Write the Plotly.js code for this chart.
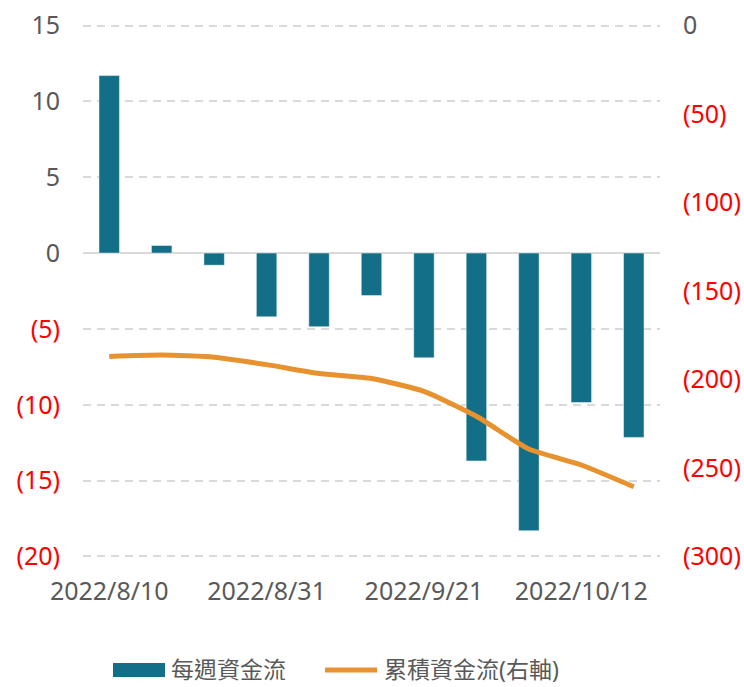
<!DOCTYPE html>
<html>
<head>
<meta charset="utf-8">
<script src="https://cdn.plot.ly/plotly-3.0.1.min.js"></script>
<style>html,body{margin:0;padding:0;background:#fff;}#chart{width:744px;height:687px;}</style>
</head>
<body>
<div id="chart"></div>
<script>
const dates = ["2022/8/10","2022/8/17","2022/8/24","2022/8/31","2022/9/7","2022/9/14","2022/9/21","2022/9/28","2022/10/5","2022/10/12","2022/10/19"];
const weeklyFlow = [11.7, 0.5, -0.8, -4.2, -4.85, -2.8, -6.9, -13.7, -18.3, -9.85, -12.15];
const cumulativeFlow = [-187.0, -186.2, -187.4, -191.6, -196.6, -199.4, -206.7, -220.8, -239.3, -248.3, -260.6];
const seriesNames = ["每週資金流", "累積資金流(右軸)"];
const xTickVals = ["2022/8/10","2022/8/31","2022/9/21","2022/10/12"];
const leftTicks = [15, 10, 5, 0, -5, -10, -15, -20];
const rightTicks = [0, -50, -100, -150, -200, -250, -300];

const GRAY = "#595959", RED = "#FF0000";
function fmt(v){ return v < 0 ? '<span style="color:' + RED + '">(' + Math.abs(v) + ')</span>' : String(v); }

const barColor = "#136F87", lineColor = "#E8922F";
const font = "'Noto Sans', 'Noto Sans CJK TC', sans-serif";

const traces = [
  {type: "bar", x: dates, y: weeklyFlow, name: seriesNames[0], yaxis: "y",
   marker: {color: barColor, line: {color: "rgba(255,255,255,0.45)", width: 1}}, width: 0.39, showlegend: false},
  {type: "scatter", mode: "lines", x: dates, y: cumulativeFlow, name: seriesNames[1], yaxis: "y2",
   line: {color: lineColor, width: 5, shape: "spline", smoothing: 0.5}, showlegend: false}
];

const W = 744, H = 687, L = 83, R = 84, T = 24, B = 129;
const pw = W - L - R, ph = H - T - B;
const px = x => (x - L) / pw;
const py = y => (H - B - y) / ph;

const pad = 0.1;
const k = 300 / 35;
const legendY = 670;
const layout = {
  width: W, height: H,
  margin: {l: L, r: R, t: T, b: B},
  paper_bgcolor: "#fff", plot_bgcolor: "#fff",
  font: {family: font, size: 24, color: GRAY},
  showlegend: false,
  xaxis: {type: "category", tickvals: xTickVals, ticktext: xTickVals, showgrid: false, showline: false, ticks: "",
          tickfont: {size: 25, color: GRAY}, ticklabelstandoff: 16, fixedrange: true},
  yaxis: {range: [-20 - pad, 15 + pad], tickvals: leftTicks, ticktext: leftTicks.map(fmt), showgrid: true, gridcolor: "#D9D9D9",
          gridwidth: 2, griddash: "8px,6px", zeroline: true, zerolinecolor: "#D9D9D9", zerolinewidth: 2,
          showline: false, ticks: "", tickfont: {size: 25, color: GRAY}, ticklabelstandoff: 22},
  yaxis2: {range: [-300 - pad * k, pad * k], overlaying: "y", side: "right", tickvals: rightTicks, ticktext: rightTicks.map(fmt),
           showgrid: false, zeroline: false, showline: false, ticks: "", tickfont: {size: 25, color: GRAY}, ticklabelstandoff: 22},
  shapes: [
    {type: "rect", xref: "paper", yref: "paper", x0: px(113), x1: px(165), y0: py(legendY + 7), y1: py(legendY - 7),
     fillcolor: barColor, line: {width: 0}},
    {type: "line", xref: "paper", yref: "paper", x0: px(325), x1: px(377), y0: py(legendY), y1: py(legendY),
     line: {color: lineColor, width: 5}}
  ],
  annotations: [
    {xref: "paper", yref: "paper", x: px(169), y: py(legendY - 1), xanchor: "left", yanchor: "middle", showarrow: false,
     text: seriesNames[0], font: {size: 23, color: GRAY}},
    {xref: "paper", yref: "paper", x: px(382), y: py(legendY - 1), xanchor: "left", yanchor: "middle", showarrow: false,
     text: seriesNames[1], font: {size: 23, color: GRAY}}
  ]
};

Plotly.newPlot("chart", traces, layout, {displayModeBar: false, staticPlot: true});
</script>
</body>
</html>
